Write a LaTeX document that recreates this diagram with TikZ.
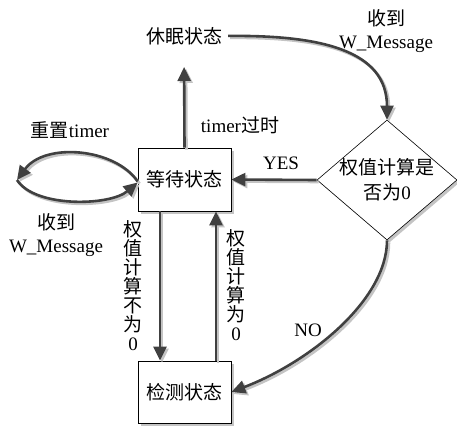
\documentclass[tikz,border=0pt]{standalone}
\usepackage{fontspec}
\setmainfont{Liberation Serif}
\newfontfamily\cjk{Noto Sans CJK SC}
\usetikzlibrary{arrows.meta,shapes.geometric,shadows}
\definecolor{arrowgray}{HTML}{404040}
\definecolor{shadowgray}{HTML}{C4C4C4}
\begin{document}
\begin{tikzpicture}[x=1pt,y=-1pt,
  lbl/.style={font=\fontsize{19}{23}\selectfont, align=center, inner sep=0pt},
  vlbl/.style={font=\fontsize{19}{19}\selectfont, align=center, inner sep=0pt},
  boxshadow/.style={drop shadow={shadow xshift=2.5pt,shadow yshift=-2.5pt,fill=shadowgray,opacity=1}},
  statebox/.style={draw=black, line width=0.7pt, fill=white, minimum width=93pt, minimum height=63pt, inner sep=0pt, font=\fontsize{19}{23}\selectfont, boxshadow},
  decision/.style={draw=black, diamond, line width=0.6pt, fill=white, minimum width=140pt, minimum height=120pt, inner sep=0pt, boxshadow},
  arr/.style={draw=arrowgray, line width=2.6pt, -{Triangle[length=14pt,width=13pt]}},
  shd/.style={draw=shadowgray, line width=2.6pt, -{Triangle[length=14pt,width=13pt]}, transform canvas={shift={(2pt,-2pt)}}}
]
\useasboundingbox (0,0) rectangle (457,428);

% nodes
\node[statebox] (wait) at (184.5,179.5) {\cjk 等待状态};
\node[statebox, minimum height=62pt] (det) at (184.5,392) {\cjk 检测状态};
\node[lbl] (sleep) at (184,36) {\cjk 休眠状态};
\node[decision] (dec) at (387,180) {};
\node[lbl] (dectxt) at (dec.center) {{\cjk 权值计算是}\\[2pt]{\cjk 否为}0};
\coordinate (loopL) at (17,180);

% connectors (shadows first)
\foreach \s in {shd,arr}{
  \draw[\s, shorten >=22pt] (wait.north) -- (sleep.south);
  \draw[\s, shorten <=6pt] (sleep.east) .. controls (320,35) and (387,50) .. (dec.north);
  \draw[\s] (dec.west) -- (wait.east);
  \draw[\s] (dec.south) .. controls (387,300) and (310,362) .. (det.east);
  \draw[\s] ([xshift=-24.5pt]wait.south) -- ([xshift=-24.5pt]det.north);
  \draw[\s] ([xshift=31.5pt]det.north) -- ([xshift=31.5pt]wait.south);
  \draw[\s] ([yshift=-2pt]wait.west) .. controls (115,148) and (45,142) .. (loopL);
  \draw[\s] (loopL) .. controls (35,208) and (110,206) .. ([yshift=-3pt]wait.west);
}

% labels
\node[lbl] (l1) at (386,31) {{\cjk 收到}\\W\_Message};
\node[lbl] (l2) at (240,125) {timer{\cjk 过时}};
\node[lbl] (l3) at (281,163) {YES};
\node[lbl] (l4) at (308,330) {NO};
\node[lbl] (l5) at (70,130) {{\cjk 重置}timer};
\node[lbl] (l6) at (56,235) {{\cjk 收到}\\W\_Message};
\node[vlbl] (l7) at (133,286) {{\cjk 权}\\{\cjk 值}\\{\cjk 计}\\{\cjk 算}\\{\cjk 不}\\{\cjk 为}\\0};
\node[vlbl] (l8) at (236,285) {{\cjk 权}\\{\cjk 值}\\{\cjk 计}\\{\cjk 算}\\{\cjk 为}\\0};
\end{tikzpicture}
\end{document}
